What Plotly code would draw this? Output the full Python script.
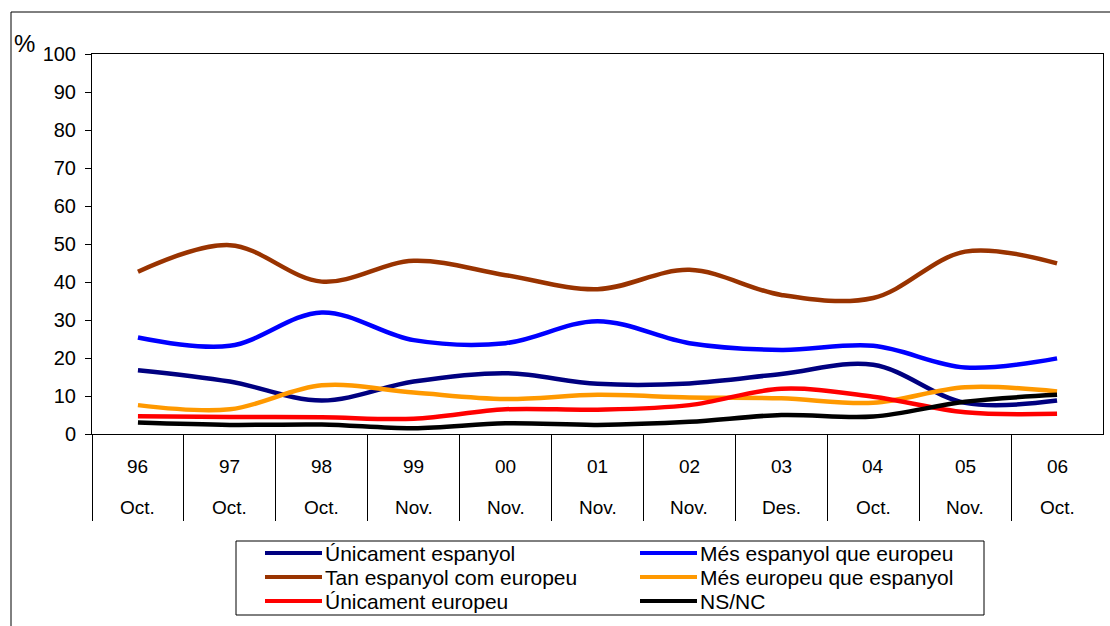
import plotly.graph_objects as go

# ---- data ----
years = ["96", "97", "98", "99", "00", "01", "02", "03", "04", "05", "06"]
months = ["Oct.", "Oct.", "Oct.", "Nov.", "Nov.", "Nov.", "Nov.", "Des.", "Oct.", "Nov.", "Oct."]

unicament_espanyol = [16.8, 13.8, 8.8, 13.8, 16.0, 13.2, 13.3, 15.8, 18.2, 8.2, 8.8]
mes_espanyol = [25.4, 23.2, 32.0, 24.7, 23.9, 29.7, 23.9, 22.1, 23.2, 17.5, 19.9]
tan_espanyol = [42.7, 49.7, 40.1, 45.6, 41.8, 38.1, 43.2, 36.6, 35.8, 48.0, 44.9]
mes_europeu = [7.6, 6.5, 12.8, 10.9, 9.2, 10.3, 9.6, 9.4, 8.2, 12.3, 11.2]
unicament_europeu = [4.7, 4.5, 4.4, 4.0, 6.5, 6.4, 7.6, 11.9, 9.8, 5.7, 5.3]
ns_nc = [3.0, 2.4, 2.5, 1.5, 2.8, 2.4, 3.2, 5.0, 4.6, 8.5, 10.3]

series = [
    ("Únicament espanyol", unicament_espanyol, "#000080"),
    ("Més espanyol que europeu", mes_espanyol, "#0000FF"),
    ("Tan espanyol com europeu", tan_espanyol, "#993300"),
    ("Més europeu que espanyol", mes_europeu, "#FF9900"),
    ("Únicament europeu", unicament_europeu, "#FF0000"),
    ("NS/NC", ns_nc, "#000000"),
]

FONT = "Liberation Sans, Arial, sans-serif"
W, H = 1110, 626
ML, MR, MT, MB = 92, 7, 54, 192
PW, PH = W - ML - MR, H - MT - MB


def px_x(px):
    return (px - ML) / PW


def px_y(py):
    return (H - MB - py) / PH


idx = list(range(len(years)))
fig = go.Figure()
draw_order = [2, 1, 0, 3, 4, 5]
for k in draw_order:
    name, vals, col = series[k]
    fig.add_trace(go.Scatter(
        x=idx, y=vals, mode="lines", name=name,
        line=dict(color=col, width=4.5, shape="spline", smoothing=1.0),
        showlegend=False, hoverinfo="name+y",
    ))

annotations = []
shapes = []

# category labels (two levels)
for i, (yr, mo) in enumerate(zip(years, months)):
    annotations.append(dict(x=i, y=px_y(466), xref="x", yref="paper", text=yr,
                            showarrow=False, font=dict(size=19, color="black", family=FONT),
                            xanchor="center", yanchor="middle"))
    annotations.append(dict(x=i, y=px_y(507), xref="x", yref="paper", text=mo,
                            showarrow=False, font=dict(size=19, color="black", family=FONT),
                            xanchor="center", yanchor="middle"))

# "%" label
annotations.append(dict(x=px_x(24), y=px_y(44), xref="paper", yref="paper", text="%",
                        showarrow=False, font=dict(size=24, color="black", family=FONT),
                        xanchor="center", yanchor="middle"))

# outer frame
shapes.append(dict(type="rect", xref="paper", yref="paper",
                   x0=px_x(11), x1=px_x(1130), y0=px_y(650), y1=px_y(12),
                   line=dict(color="black", width=1), fillcolor="rgba(0,0,0,0)", layer="below"))

# legend box
shapes.append(dict(type="rect", xref="paper", yref="paper",
                   x0=px_x(236), x1=px_x(984), y0=px_y(615), y1=px_y(541),
                   line=dict(color="black", width=1), fillcolor="white", layer="above"))

legend_pos = [  # (line x0, line x1, row y)
    (265, 322, 553), (640, 697, 553),
    (265, 322, 577), (640, 697, 577),
    (265, 322, 601), (640, 697, 601),
]
for (name, vals, col), (lx0, lx1, ly) in zip(series, legend_pos):
    shapes.append(dict(type="line", xref="paper", yref="paper",
                       x0=px_x(lx0), x1=px_x(lx1), y0=px_y(ly), y1=px_y(ly),
                       line=dict(color=col, width=4), layer="above"))
    annotations.append(dict(x=px_x(lx1 + 1), y=px_y(ly), xref="paper", yref="paper",
                            text=name, showarrow=False,
                            font=dict(size=21, color="black", family=FONT),
                            xanchor="left", yanchor="middle"))

fig.update_layout(
    width=W, height=H,
    margin=dict(l=ML, r=MR, t=MT, b=MB),
    paper_bgcolor="white", plot_bgcolor="white",
    font=dict(family=FONT, color="black"),
    annotations=annotations, shapes=shapes,
    showlegend=False,
    xaxis=dict(
        range=[-0.5, len(years) - 0.5],
        tickvals=[i - 0.5 for i in idx],
        ticks="outside", ticklen=86, tickwidth=1, tickcolor="black",
        showticklabels=False, showgrid=False, zeroline=False,
        showline=True, linecolor="black", linewidth=1, mirror=True,
        fixedrange=True,
    ),
    yaxis=dict(
        range=[0, 100], tickvals=list(range(0, 101, 10)),
        ticks="outside", ticklen=6, tickwidth=1, tickcolor="black",
        tickfont=dict(size=20, color="black", family=FONT),
        ticklabelstandoff=5,
        showgrid=False, zeroline=False,
        showline=True, linecolor="black", linewidth=1, mirror=True,
        fixedrange=True,
    ),
)

fig.write_html(
    "out.html",
    config={"displayModeBar": False},
    post_script="document.body.style.margin='0';document.body.style.overflow='hidden';",
)
